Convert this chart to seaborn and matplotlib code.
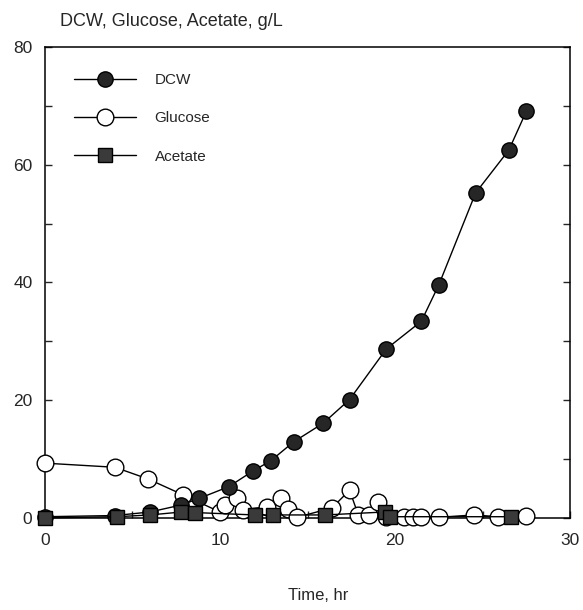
import matplotlib
matplotlib.use("Agg")
import matplotlib.pyplot as plt
import seaborn as sns
import pandas as pd

# Fermentation time course: dry cell weight, glucose and acetate (g/L)
dcw_time = [0, 4, 6, 7.8, 8.8, 10.5, 11.9, 12.9, 14.2, 15.9, 17.4, 19.5, 21.5, 22.5, 24.6, 26.5, 27.5]
dcw_val = [0.2, 0.4, 1.0, 2.2, 3.3, 5.3, 8.0, 9.7, 12.9, 16.1, 20.1, 28.7, 33.4, 39.6, 55.2, 62.5, 69.1]

glc_time = [0, 4, 5.9, 7.9, 10.0, 10.3, 11.0, 11.3, 12.7, 13.5, 13.9, 14.4, 16.4, 17.4,
            17.9, 18.5, 19.0, 19.5, 20.5, 21.0, 21.5, 22.5, 24.5, 25.9, 27.5]
glc_val = [9.3, 8.6, 6.6, 3.9, 1.0, 2.2, 3.4, 1.4, 1.9, 3.4, 1.5, 0.1, 1.7, 4.7,
           0.5, 0.5, 2.7, 0.2, 0.2, 0.2, 0.1, 0.1, 0.5, 0.2, 0.4]

ace_time = [0, 4.1, 6.0, 7.8, 8.6, 12.0, 13.0, 16.0, 19.4, 19.7, 26.6]
ace_val = [0.0, 0.2, 0.5, 1.0, 0.9, 0.5, 0.5, 0.5, 1.0, 0.2, 0.2]

x_ticks = [0, 10, 20, 30]
y_ticks = [0, 20, 40, 60, 80]

sns.set_style("ticks")
plt.rcParams["font.family"] = ["Liberation Sans", "DejaVu Sans"]

fig = plt.figure(figsize=(5.83, 6.10), dpi=100)
ax = fig.add_axes([0.077, 0.151, 0.901, 0.772])

common = dict(ax=ax, color="black", linewidth=1.0, estimator=None, clip_on=False)

sns.lineplot(x=dcw_time, y=dcw_val, marker="o", markersize=11,
             markerfacecolor="#262626", markeredgecolor="black", markeredgewidth=1.0,
             label="DCW", zorder=4, **common)
sns.lineplot(x=glc_time, y=glc_val, marker="o", markersize=12,
             markerfacecolor="white", markeredgecolor="black", markeredgewidth=1.0,
             label="Glucose", zorder=3, **common)
sns.lineplot(x=ace_time, y=ace_val, marker="s", markersize=10,
             markerfacecolor="#3a3a3a", markeredgecolor="black", markeredgewidth=1.0,
             label="Acetate", zorder=5, **common)

ax.set_xlim(0, 30)
ax.set_ylim(0, 80)
ax.set_xticks(x_ticks)
ax.set_yticks(y_ticks)
ax.set_xticks([5, 15, 25], minor=True)
ax.set_yticks([10, 30, 50, 70], minor=True)
ax.tick_params(axis="both", which="both", direction="in", right=True, top=False,
               labelsize=12.5, width=1.0)
ax.tick_params(axis="both", which="major", length=5)
ax.tick_params(axis="both", which="minor", length=5)
ax.tick_params(axis="x", pad=11)
ax.tick_params(axis="y", pad=9)
for side in ["left", "right", "top", "bottom"]:
    ax.spines[side].set_visible(True)
    ax.spines[side].set_linewidth(1.1)
    ax.spines[side].set_color("black")
ax.set_xlabel("")
ax.set_ylabel("")

leg = ax.legend(loc="upper left", bbox_to_anchor=(0.043, 0.958), frameon=False,
                fontsize=11, handlelength=4.1, labelspacing=1.6, handletextpad=1.2,
                borderaxespad=0.0)

fig.text(60 / 583, 1 - 21 / 610, "DCW, Glucose, Acetate, g/L", fontsize=13,
         ha="left", va="center")
fig.text(318 / 583, 1 - 595 / 610, "Time, hr", fontsize=12, ha="center", va="center")

fig.savefig("out.png", dpi=100)
